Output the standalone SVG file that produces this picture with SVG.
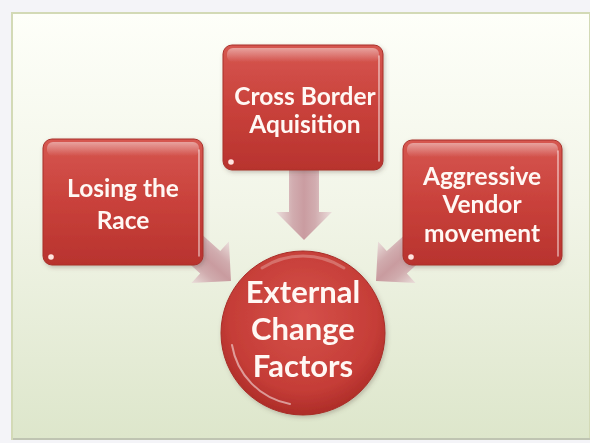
<svg xmlns="http://www.w3.org/2000/svg" width="590" height="443" viewBox="0 0 590 443">
  <style>
    .lbl { font-family: Lato, "Open Sans", "Liberation Sans", sans-serif; font-weight: 700; fill: #fff8f4; text-anchor: middle; }
    .box-text { font-size: 24.5px; }
    .hub-text { font-size: 31px; }
    .box { fill: url(#boxFill); stroke: #a8302b; stroke-width: 1; }
    .gloss { fill: url(#glossFill); }
    .rim { fill: none; stroke: #ffffff; stroke-opacity: 0.55; stroke-width: 1.6; stroke-linecap: round; }
    .dot { fill: #ffe4e0; }
    .arrow { fill: url(#arrowFill); opacity: 0.8; }
  </style>
  <defs>
    <linearGradient id="pageFill" x1="0" y1="0" x2="0" y2="1">
      <stop offset="0" stop-color="#fefff9"/>
      <stop offset="0.45" stop-color="#f2f5e8"/>
      <stop offset="1" stop-color="#dde6cb"/>
    </linearGradient>
    <linearGradient id="boxFill" x1="0" y1="0" x2="0" y2="1">
      <stop offset="0" stop-color="#d65750"/>
      <stop offset="0.5" stop-color="#c9413b"/>
      <stop offset="1" stop-color="#b8332e"/>
    </linearGradient>
    <linearGradient id="glossFill" x1="0" y1="0" x2="0" y2="1">
      <stop offset="0" stop-color="#ffffff" stop-opacity="0.45"/>
      <stop offset="1" stop-color="#ffffff" stop-opacity="0"/>
    </linearGradient>
    <radialGradient id="hubFill" cx="0.5" cy="0.4" r="0.6">
      <stop offset="0" stop-color="#d5504a"/>
      <stop offset="0.75" stop-color="#c53d37"/>
      <stop offset="1" stop-color="#ad2c28"/>
    </radialGradient>
    <linearGradient id="arrowFill" x1="0" y1="0" x2="0" y2="1">
      <stop offset="0" stop-color="#eadada"/>
      <stop offset="0.3" stop-color="#c99aa1"/>
      <stop offset="0.5" stop-color="#c0868f"/>
      <stop offset="0.7" stop-color="#c99aa1"/>
      <stop offset="1" stop-color="#eadada"/>
    </linearGradient>
    <filter id="shade" x="-20%" y="-20%" width="140%" height="140%">
      <feDropShadow dx="1.5" dy="2" stdDeviation="2" flood-color="#5a4a40" flood-opacity="0.3"/>
    </filter>
    <!-- block arrow pointing along +x, tip at the origin -->
    <path id="blockArrow" d="M-74,-15 L-28,-15 L-28,-28 L0,0 L-28,28 L-28,15 L-74,15 Z"/>
  </defs>

  <!-- page and frame -->
  <rect x="0" y="0" width="590" height="443" fill="#f4f4f8"/>
  <rect x="12" y="13" width="578" height="426" fill="url(#pageFill)" stroke="#d3dab6" stroke-width="2"/>
  <line x1="13" y1="439" x2="590" y2="439" stroke="#b9bdb0" stroke-width="1.5"/>

  <g id="connectors">
    <use href="#blockArrow" class="arrow" transform="translate(304,240) rotate(90)"/>
    <use href="#blockArrow" class="arrow" transform="translate(231,281) rotate(42)"/>
    <use href="#blockArrow" class="arrow" transform="translate(376,281) rotate(138)"/>
  </g>

  <g id="losing-the-race" filter="url(#shade)">
    <rect class="box" x="43" y="139" width="160" height="126" rx="9"/>
    <rect class="gloss" x="47" y="142" width="152" height="14" rx="6"/>
    <path class="rim" d="M199,150 L199,256"/>
    <circle class="dot" cx="51" cy="257" r="2.8"/>
    <text class="lbl box-text" x="123" y="197">Losing the</text>
    <text class="lbl box-text" x="123" y="229">Race</text>
  </g>

  <g id="cross-border-aquisition" filter="url(#shade)">
    <rect class="box" x="223" y="45" width="160" height="125" rx="9"/>
    <rect class="gloss" x="227" y="48" width="152" height="14" rx="6"/>
    <path class="rim" d="M379,56 L379,161"/>
    <circle class="dot" cx="231" cy="162" r="2.8"/>
    <text class="lbl box-text" x="305" y="105">Cross Border</text>
    <text class="lbl box-text" x="305" y="133">Aquisition</text>
  </g>

  <g id="aggressive-vendor-movement" filter="url(#shade)">
    <rect class="box" x="403" y="140" width="159" height="125" rx="9"/>
    <rect class="gloss" x="407" y="143" width="151" height="14" rx="6"/>
    <path class="rim" d="M558,151 L558,256"/>
    <circle class="dot" cx="411" cy="257" r="2.8"/>
    <text class="lbl box-text" x="482" y="185">Aggressive</text>
    <text class="lbl box-text" x="482" y="213">Vendor</text>
    <text class="lbl box-text" x="482" y="242">movement</text>
  </g>

  <g id="external-change-factors" filter="url(#shade)">
    <circle cx="303" cy="333" r="82" fill="url(#hubFill)" stroke="#a82d28" stroke-width="1"/>
    <path d="M232,345 A72,72 0 0 0 290,404" fill="none" stroke="#ffffff" stroke-opacity="0.5" stroke-width="2" stroke-linecap="round"/>
    <path d="M262,268 A76,76 0 0 1 344,268" fill="none" stroke="#ffffff" stroke-opacity="0.25" stroke-width="3" stroke-linecap="round"/>
    <text class="lbl hub-text" x="303" y="303">External</text>
    <text class="lbl hub-text" x="303" y="340">Change</text>
    <text class="lbl hub-text" x="303" y="377">Factors</text>
  </g>
</svg>
